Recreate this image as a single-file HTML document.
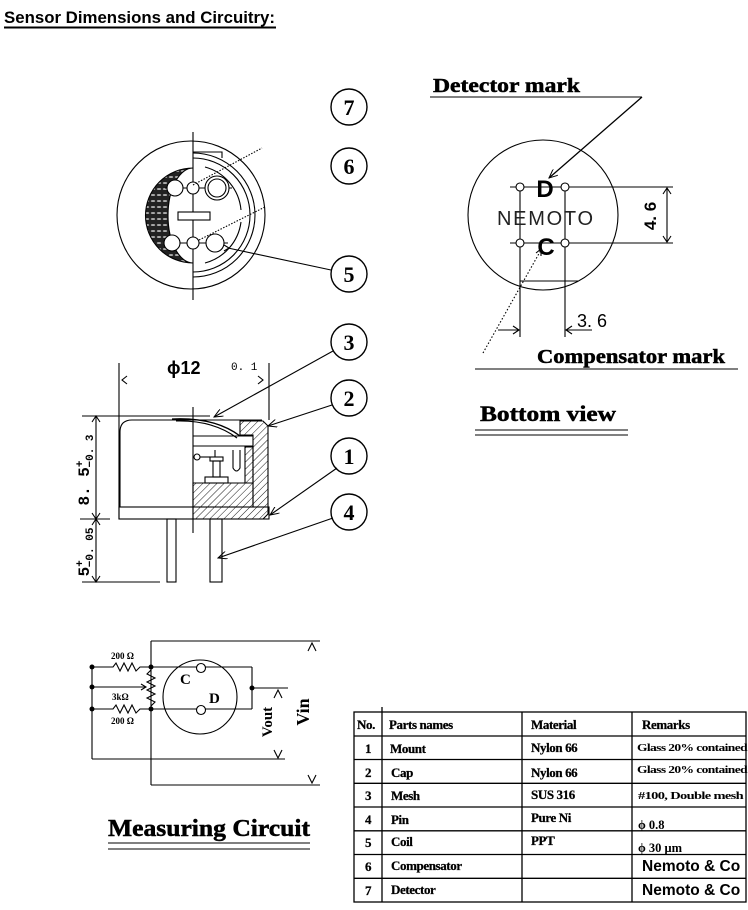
<!DOCTYPE html>
<html><head><meta charset="utf-8"><style>
html,body{margin:0;padding:0;background:#fff;}
svg{display:block;}
.s{font-family:"Liberation Sans",sans-serif;}
.r{font-family:"Liberation Serif",serif;font-weight:bold;}
.hv{stroke:#000;stroke-width:0.5;}
</style></head><body>
<svg width="748" height="910" viewBox="0 0 748 910" xmlns="http://www.w3.org/2000/svg">
<defs>
<pattern id="h" width="5" height="5" patternUnits="userSpaceOnUse" patternTransform="rotate(45)"><line x1="0" y1="0" x2="0" y2="5" stroke="#000" stroke-width="0.9"/></pattern>
<pattern id="m" width="6" height="6" patternUnits="userSpaceOnUse"><rect width="6" height="6" fill="#222"/><ellipse cx="3" cy="3" rx="2.2" ry="1" fill="#aaa"/></pattern>
<marker id="a" markerWidth="10" markerHeight="8" refX="9" refY="4" orient="auto" markerUnits="userSpaceOnUse"><path d="M0,0 L9,4 L0,8" fill="none" stroke="#000" stroke-width="1"/></marker>
</defs>

<!-- Title -->
<text x="4" y="23" class="s" font-weight="bold" font-size="16.5" textLength="271" lengthAdjust="spacingAndGlyphs">Sensor Dimensions and Circuitry:</text>
<rect x="4" y="26.5" width="272" height="2" fill="#000"/>

<!-- Numbered circles -->
<g fill="none" stroke="#000" stroke-width="1.4">
<circle cx="349" cy="107" r="18"/><circle cx="349" cy="166" r="18"/><circle cx="349" cy="274" r="18"/>
<circle cx="349" cy="342" r="18"/><circle cx="349" cy="398" r="18"/><circle cx="349" cy="456" r="18"/><circle cx="349" cy="512" r="18"/>
</g>
<g class="r" font-size="22" text-anchor="middle">
<text x="349" y="115">7</text><text x="349" y="174">6</text><text x="349" y="282">5</text>
<text x="349" y="350">3</text><text x="349" y="406">2</text><text x="349" y="464">1</text><text x="349" y="520">4</text>
</g>

<!-- Top view -->
<g fill="none" stroke="#000" stroke-width="1.1">
<circle cx="191" cy="215" r="74"/>
<line x1="193" y1="132" x2="193" y2="300"/>
<path d="M193,168 A47.5,47.5 0 0 0 193,263 A25,47.5 0 0 1 193,168 Z" fill="url(#m)" stroke="#000"/>
<path d="M193,153 A62,62 0 0 1 193,277"/>
<path d="M193,158 A57,57 0 0 1 193,272"/>
<path d="M205,167 A49,49 0 0 1 241,210"/>
<path d="M241,222 A49,49 0 0 1 205,263"/>
<path d="M193,152 L222,152 L222,158"/>
<line x1="165" y1="188" x2="232" y2="188"/>
<circle cx="175" cy="188" r="8" fill="#fff"/>
<circle cx="193" cy="188" r="6" fill="#fff"/>
<circle cx="217" cy="188" r="12" fill="#fff"/>
<circle cx="217" cy="188" r="9"/>
<line x1="163" y1="243" x2="228" y2="243"/>
<circle cx="172" cy="243" r="8" fill="#fff"/>
<circle cx="193" cy="243" r="6" fill="#fff"/>
<circle cx="215" cy="243" r="9" fill="#fff"/>
<rect x="178" y="212" width="32" height="8" fill="#fff"/>
<line x1="193" y1="185" x2="262" y2="148" stroke-dasharray="1.5,1.5"/>
<line x1="199" y1="240" x2="265" y2="207" stroke-dasharray="1.5,1.5"/>
<line x1="331" y1="270" x2="228" y2="248"/>
<path d="M224,245 L229,248 L224,251" />
</g>

<!-- Side view -->
<g fill="none" stroke="#000" stroke-width="1.1">
<line x1="119" y1="363" x2="119" y2="519"/>
<line x1="269" y1="363" x2="269" y2="420"/>
<path d="M127,376 L122,380 L127,384"/>
<path d="M258,376 L263,380 L258,384"/>
<line x1="82" y1="416" x2="210" y2="416"/>
<path d="M120,507 L120,432 Q120,420 132,420 L193,420"/>
<rect x="119" y="507" width="150" height="12"/>
<line x1="193" y1="420" x2="262" y2="420"/>
<path d="M172,419 Q215,417 240,436" stroke-width="1.3"/>
<path d="M176,421 Q213,420 237,438"/>
<path d="M240,421 L263,421 L268,426 L268,507 L253,507 L253,435 L240,435 Z" fill="url(#h)"/>
<path d="M193,483 L253,483 L253,507 L268,507 L268,514 L263,519 L193,519 Z" fill="url(#h)"/>
<path d="M245,447 L253,447 L253,483 L245,483 Z" fill="url(#h)"/>
<line x1="193" y1="436" x2="253" y2="436"/>
<line x1="193" y1="446" x2="253" y2="446"/>
<circle cx="197" cy="457" r="3"/>
<line x1="200" y1="457" x2="210" y2="457"/>
<line x1="215" y1="450" x2="215" y2="457"/>
<rect x="210" y="457" width="13" height="4"/>
<rect x="213" y="461" width="7" height="16"/>
<rect x="205" y="477" width="23" height="6"/>
<path d="M233,450 L233,468 Q236.5,474 240,468 L240,450"/>
<line x1="193" y1="407" x2="193" y2="533"/>
<rect x="167" y="519" width="9" height="63"/>
<rect x="210" y="519" width="12" height="63"/>
<line x1="82" y1="582" x2="160" y2="582"/>
<line x1="96" y1="416" x2="96" y2="582"/>
<line x1="80" y1="519" x2="110" y2="519"/>
<path d="M92,422 L96,416 L100,422"/><path d="M92,513 L96,519 L100,513"/>
<path d="M92,525 L96,519 L100,525"/><path d="M92,576 L96,582 L100,576"/>
<line x1="333" y1="351" x2="214" y2="417" marker-end="url(#a)"/>
<line x1="332" y1="405" x2="268" y2="426" marker-end="url(#a)"/>
<line x1="337" y1="468" x2="270" y2="515" marker-end="url(#a)"/>
<line x1="333" y1="518" x2="218" y2="558" marker-end="url(#a)"/>
</g>
<text x="167" y="374" class="s" font-weight="bold" font-size="18">ϕ12</text>
<text x="231" y="370" font-family="Liberation Mono,monospace" font-size="11">0. 1</text>
<g transform="translate(89,470) rotate(-90)"><text x="0" y="0" text-anchor="middle" font-family="Liberation Mono,monospace" font-weight="bold" font-size="16">8. 5<tspan font-size="11" dy="-6">+</tspan><tspan font-size="11" dx="-7" dy="10">−0. 3</tspan></text></g>
<g transform="translate(89,552) rotate(-90)"><text x="0" y="0" text-anchor="middle" font-family="Liberation Mono,monospace" font-weight="bold" font-size="16">5<tspan font-size="11" dy="-6">+</tspan><tspan font-size="11" dx="-7" dy="10">−0. 05</tspan></text></g>

<!-- Bottom view -->
<text x="433" y="92" class="r hv" font-size="20" textLength="147" lengthAdjust="spacingAndGlyphs">Detector mark</text>
<g fill="none" stroke="#000" stroke-width="1.1">
<line x1="430" y1="97" x2="642" y2="97"/>
<line x1="642" y1="97" x2="549" y2="178" stroke-width="1.3" marker-end="url(#a)"/>
<circle cx="543" cy="215" r="75"/>
<line x1="510" y1="187" x2="673" y2="187"/>
<line x1="510" y1="243" x2="673" y2="243"/>
<line x1="520" y1="187" x2="520" y2="337"/>
<line x1="565" y1="187" x2="565" y2="337"/>
<line x1="520" y1="281" x2="578" y2="281"/>
<circle cx="520" cy="187" r="4" fill="#fff"/><circle cx="565" cy="187" r="4" fill="#fff"/>
<circle cx="520" cy="243" r="4" fill="#fff"/><circle cx="565" cy="243" r="4" fill="#fff"/>
<line x1="667" y1="188" x2="667" y2="242"/>
<path d="M663,194 L667,188 L671,194"/><path d="M663,236 L667,242 L671,236"/>
<line x1="498" y1="330" x2="519" y2="330"/><path d="M513,326 L519,330 L513,334"/>
<line x1="592" y1="330" x2="566" y2="330"/><path d="M572,326 L566,330 L572,334"/>
<line x1="483" y1="353" x2="541" y2="250" stroke-dasharray="1.5,2"/>
<path d="M536,253 L541,249 L541,256"/>
<line x1="475" y1="369" x2="738" y2="369"/>
<line x1="475" y1="430" x2="628" y2="430"/>
<line x1="475" y1="435" x2="628" y2="435"/>
</g>
<text x="545" y="197" class="s" font-weight="bold" font-size="24" text-anchor="middle">D</text>
<text x="546" y="255" class="s" font-weight="bold" font-size="24" text-anchor="middle">C</text>
<text x="497" y="225" class="s" font-size="20" fill="#222" textLength="96" lengthAdjust="spacing">NEMOTO</text>
<g transform="translate(656,216) rotate(-90)"><text x="0" y="0" text-anchor="middle" class="s" font-weight="bold" font-size="17">4. 6</text></g>
<text x="577" y="327" class="s" font-size="18">3. 6</text>
<text x="537" y="363" class="r hv" font-size="20" textLength="188" lengthAdjust="spacingAndGlyphs">Compensator mark</text>
<text x="480" y="421" class="r hv" font-size="22" textLength="136" lengthAdjust="spacingAndGlyphs">Bottom view</text>

<!-- Measuring circuit -->
<g fill="none" stroke="#000" stroke-width="1.1">
<line x1="151" y1="641" x2="320" y2="641"/>
<line x1="151" y1="641" x2="151" y2="785"/>
<line x1="151" y1="785" x2="320" y2="785"/>
<path d="M308,651 L312,643 L316,651"/>
<path d="M308,775 L312,783 L316,775"/>
<line x1="92" y1="667" x2="92" y2="759"/>
<path d="M92,667 L113,667 L116,663 L120,671 L124,663 L128,671 L132,663 L136,671 L140,667 L252,667"/>
<path d="M92,709 L113,709 L116,705 L120,713 L124,705 L128,713 L132,705 L136,713 L140,709 L252,709"/>
<path d="M151,670 L147,674 L155,678 L147,682 L155,686 L147,690 L155,694 L147,698 L155,702 L151,706"/>
<line x1="92" y1="687" x2="146" y2="687"/>
<path d="M141,684 L146,687 L141,690"/>
<line x1="252" y1="667" x2="252" y2="709"/>
<line x1="252" y1="688" x2="288" y2="688"/>
<path d="M274,698 L278,690 L282,698"/>
<line x1="92" y1="759" x2="285" y2="759"/>
<path d="M274,750 L278,758 L282,750"/>
<circle cx="200" cy="697" r="37"/>
<circle cx="201" cy="668" r="4.5" fill="#fff"/>
<circle cx="201" cy="710" r="4.5" fill="#fff"/>
<line x1="108" y1="843" x2="310" y2="843"/>
<line x1="108" y1="849" x2="310" y2="849"/>
</g>
<g fill="#000">
<circle cx="92" cy="667" r="2.5"/><circle cx="92" cy="687" r="2.5"/><circle cx="92" cy="709" r="2.5"/>
<circle cx="151" cy="667" r="2.5"/><circle cx="151" cy="709" r="2.5"/><circle cx="252" cy="688" r="2.5"/>
</g>
<g class="r" font-size="9">
<text x="111" y="659">200 Ω</text><text x="112" y="700">3kΩ</text><text x="111" y="724">200 Ω</text>
</g>
<text x="180" y="684" class="r" font-size="15">C</text>
<text x="209" y="703" class="r" font-size="15">D</text>
<g transform="translate(272,722) rotate(-90)"><text x="0" y="0" text-anchor="middle" class="r" font-size="15">Vout</text></g>
<g transform="translate(309,712) rotate(-90)"><text x="0" y="0" text-anchor="middle" class="r" font-size="18">Vin</text></g>
<text x="108" y="836" class="r hv" font-size="24" textLength="202" lengthAdjust="spacingAndGlyphs">Measuring Circuit</text>

<!-- Table -->
<g fill="none" stroke="#000" stroke-width="1.3">
<rect x="354" y="712" width="392" height="190"/>
<line x1="382" y1="707" x2="382" y2="902"/>
<line x1="522" y1="712" x2="522" y2="902"/>
<line x1="632" y1="712" x2="632" y2="902"/>
<line x1="354" y1="736" x2="746" y2="736"/>
<line x1="354" y1="759.5" x2="746" y2="759.5"/>
<line x1="354" y1="783.3" x2="746" y2="783.3"/>
<line x1="354" y1="807" x2="746" y2="807"/>
<line x1="354" y1="830.8" x2="746" y2="830.8"/>
<line x1="354" y1="854.5" x2="746" y2="854.5"/>
<line x1="354" y1="878.3" x2="746" y2="878.3"/>
</g>
<g class="r" font-size="13" letter-spacing="-0.4" stroke="#000" stroke-width="0.25">
<text x="357" y="729">No.</text><text x="389" y="729">Parts names</text><text x="531" y="729">Material</text><text x="642" y="729">Remarks</text>
<g text-anchor="middle"><text x="368" y="753">1</text><text x="368" y="777">2</text><text x="368" y="800">3</text><text x="368" y="824">4</text><text x="368" y="847">5</text><text x="368" y="871">6</text><text x="368" y="895">7</text></g>
<text x="390" y="753">Mount</text><text x="391" y="777">Cap</text><text x="391" y="800">Mesh</text><text x="391" y="824">Pin</text><text x="391" y="846">Coil</text><text x="391" y="870">Compensator</text><text x="391" y="894">Detector</text>
<text x="531" y="752">Nylon 66</text><text x="531" y="777">Nylon 66</text><text x="531" y="799">SUS 316</text><text x="531" y="822">Pure Ni</text><text x="531" y="845">PPT</text>
</g>
<g class="r" font-size="11" letter-spacing="-0.5">
<text x="637" y="751" textLength="110" lengthAdjust="spacingAndGlyphs">Glass 20% contained</text><text x="637" y="773" textLength="110" lengthAdjust="spacingAndGlyphs">Glass 20% contained</text><text x="638" y="799" textLength="105" lengthAdjust="spacingAndGlyphs">#100, Double mesh</text>
</g>
<g class="r" font-size="12.5">
<text x="638" y="829">ϕ 0.8</text><text x="638" y="852">ϕ 30 μm</text>
</g>
<g class="s" font-weight="bold" font-size="15.5">
<text x="642" y="871">Nemoto &amp; Co</text><text x="642" y="895">Nemoto &amp; Co</text>
</g>
</svg>
</body></html>
